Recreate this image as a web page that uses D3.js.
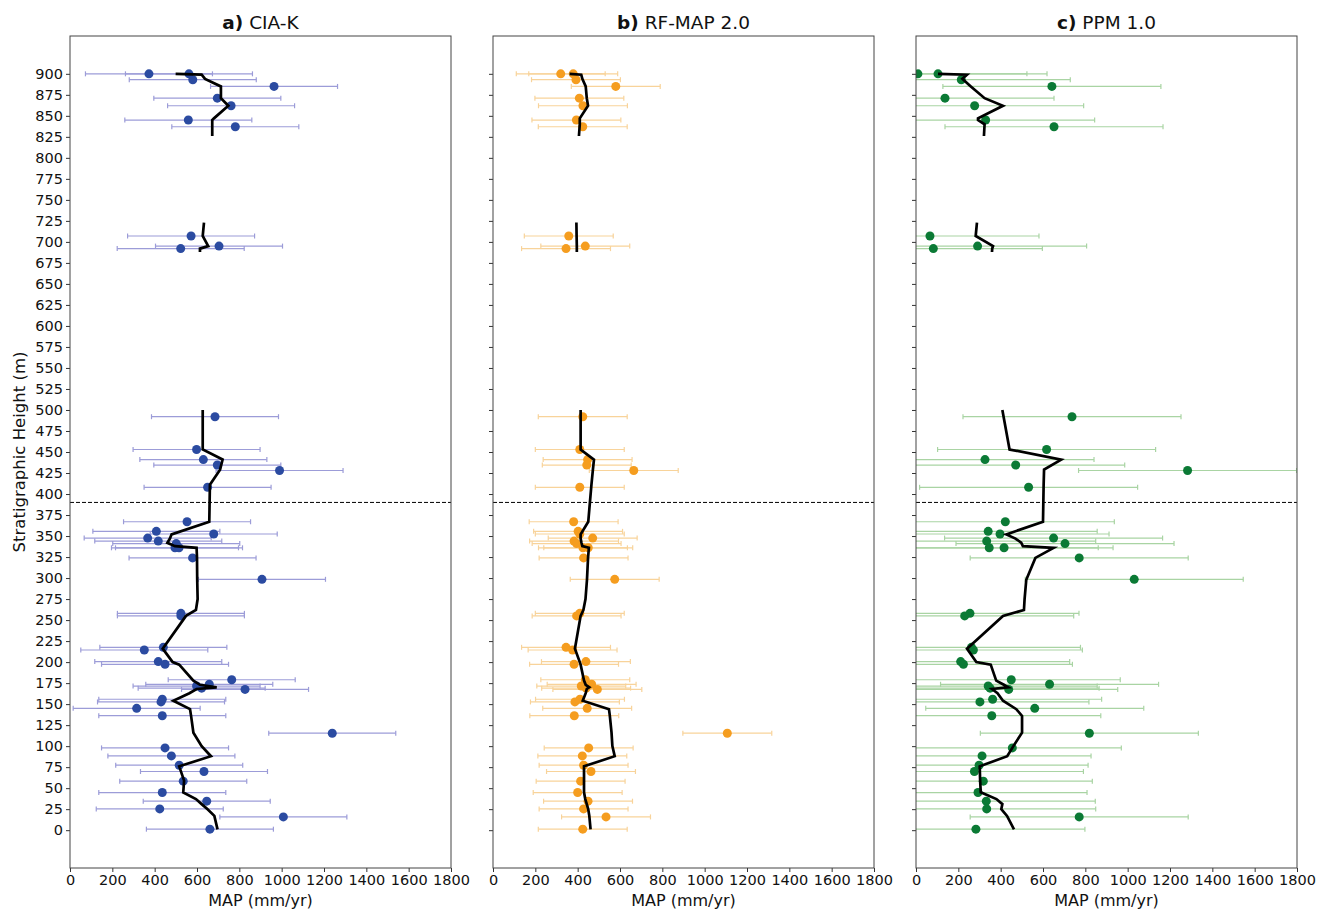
<!DOCTYPE html>
<html><head><meta charset="utf-8">
<script src="https://cdn.jsdelivr.net/npm/d3@7"></script>
<style>body{margin:0;background:#fff;} svg{display:block;font-family:"DejaVu Sans",sans-serif;}</style>
</head><body>
<svg id="chart" width="1319" height="912"></svg>
<script>
// Sample heights (m) and MAP (mm/yr) for each proxy
const heights = [900,900,893,885,871,862,845,837,
  707,695,692,
  492,453,441,434.5,428,408,367,355.6,352.4,347.6,344,341,336,336,324,298.5,258,255,217.6,214.4,200.6,197.4,
  179,173.6,171.5,169,167.5,155.8,152.6,145,136.2,115.4,97.9,88.4,77.3,69.8,58.3,44.8,34.5,25.3,15.8,1.2];
const mapCIAK = [373,562,580,964,696,761,559,781,
  572,704,523,
  685,598,630,696,990,650,553,408,679,367,417,502,496,515,579,907,524,524,441,351,417,449,
  764,658,598,622,827,436,430,315,436,1239,449,479,516,633,535,436,646,424,1008,661];
const mapRF = [320,379,392,580,408,425,394,424,
  358,436,345,
  424,410,447,443,665,410,381,402,410,471,383,395,425,450,428,575,410,395,345,376,439,383,
  436,466,417,440,493,411,387,445,384,1107,452,422,428,463,414,400,449,428,534,424];
const mapPPM = [9,104,214,642,137,277,329,652,
  66,291,82,
  737,617,326,471,1283,532,422,341,397,650,334,704,346,416,771,1031,255,230,262,271,211,224,
  450,631,341,350,438,362,302,561,358,819,455,312,298,276,318,293,332,334,771,283];
// error half-widths (mm/yr)
const errCIAK = 300, errRF = 210, errPPM = 515;

// Trend line (null = gap between sections)
const lineHeights = [900,899,894,885,871,862,847,845,840,826, null,
  723,707,695,692,688, null,
  500,453,441,429,411,367,352,347,342,338,336,324,298,275,262,255,216,200,197,178,
  173,170,168,163,154,144,136,116,100,88,76,59,45,37,31,25,17,1];
const lineCIAK = [499,622,638,713,713,748,680,672,672,672, null,
  633,627,653,614,614, null,
  627,627,721,709,661,658,480,472,460,496,598,600,601,603,595,548,438,485,516,583,
  614,693,598,564,488,567,572,583,622,666,516,539,535,595,622,650,682,697];
const lineRF = [362,417,422,438,443,449,410,410,410,406, null,
  394,395,396,396,396, null,
  414,414,477,472,465,450,414,414,418,422,453,449,444,437,427,414,387,410,414,430,
  438,455,443,438,424,548,552,560,564,575,430,430,430,436,443,450,455,461];
const linePPM = [104,241,219,259,324,411,293,293,324,321, null,
  288,282,364,360,359, null,
  408,442,686,605,603,600,427,470,497,505,650,564,521,513,510,411,241,285,353,379,
  415,435,359,385,411,474,501,501,460,431,301,303,306,380,408,403,430,463];

const yTicks = d3.range(0, 901, 25);
const xTicks = [0,200,400,600,800,1000,1200,1400,1600,1800];
const boundary = 390;

const panels = [
  {label:"a)", name:"CIA-K", vals:mapCIAK, err:errCIAK, line:lineCIAK, x0:70, dot:"#2b4ba1", bar:"#9c9cd8"},
  {label:"b)", name:"RF-MAP 2.0", vals:mapRF, err:errRF, line:lineRF, x0:493, dot:"#f59d1f", bar:"#f8d39a"},
  {label:"c)", name:"PPM 1.0", vals:mapPPM, err:errPPM, line:linePPM, x0:916, dot:"#0b7a35", bar:"#a9d4a3"}
];
const W = 381, topY = 36, bottomY = 868;
const svg = d3.select("#chart");
const y = d3.scaleLinear().domain([-45, 945]).range([bottomY, topY]);

panels.forEach((p, i) => {
  const x = d3.scaleLinear().domain([0, 1800]).range([p.x0, p.x0 + W]);
  const g = svg.append("g");
  const clipId = "clip" + i;
  svg.append("defs").append("clipPath").attr("id", clipId)
    .append("rect").attr("x", p.x0).attr("y", topY).attr("width", W).attr("height", bottomY - topY);
  const plot = g.append("g").attr("clip-path", `url(#${clipId})`);

  const data = heights.map((h, k) => ({h, v: p.vals[k]}));
  // error bars
  const eb = plot.append("g").attr("stroke", p.bar).attr("stroke-width", 1.2).attr("fill", "none");
  data.forEach(d => {
    const yy = y(d.h);
    const xl = x(d.v - p.err), xr = x(d.v + p.err);
    eb.append("line").attr("x1", xl).attr("x2", xr).attr("y1", yy).attr("y2", yy);
    eb.append("line").attr("x1", xl).attr("x2", xl).attr("y1", yy - 2.5).attr("y2", yy + 2.5);
    eb.append("line").attr("x1", xr).attr("x2", xr).attr("y1", yy - 2.5).attr("y2", yy + 2.5);
  });
  // dots
  plot.append("g").selectAll("circle").data(data).join("circle")
    .attr("cx", d => x(d.v)).attr("cy", d => y(d.h)).attr("r", 4.5).attr("fill", p.dot);
  // trend line
  const ld = lineHeights.map((h, k) => ({h, v: p.line[k]}));
  plot.append("path").datum(ld)
    .attr("d", d3.line().defined(d => d.h != null && d.v != null).x(d => x(d.v)).y(d => y(d.h)))
    .attr("fill", "none").attr("stroke", "#000").attr("stroke-width", 2.7).attr("stroke-linejoin", "miter");
  // boundary dashed line
  g.append("line").attr("x1", p.x0).attr("x2", p.x0 + W).attr("y1", y(boundary)).attr("y2", y(boundary))
    .attr("stroke", "#000").attr("stroke-width", 1).attr("stroke-dasharray", "4,2");

  // axes
  const xAxis = d3.axisBottom(x).tickValues(xTicks).tickSize(4).tickPadding(3).tickFormat(d3.format("d"));
  const gx = g.append("g").attr("transform", `translate(0,${bottomY})`).call(xAxis);
  gx.select(".domain").remove();
  gx.selectAll("text").attr("font-size", 14.5).attr("fill", "#111").attr("font-family", "DejaVu Sans");
  gx.selectAll("line").attr("stroke", "#333");

  const yAxis = d3.axisLeft(y).tickValues(yTicks).tickSize(4).tickPadding(3)
    .tickFormat(i === 0 ? d3.format("d") : () => "");
  const gy = g.append("g").attr("transform", `translate(${p.x0},0)`).call(yAxis);
  gy.select(".domain").remove();
  gy.selectAll("text").attr("font-size", 14.5).attr("fill", "#111").attr("font-family", "DejaVu Sans");
  gy.selectAll("line").attr("stroke", "#333");

  // frame
  g.append("rect").attr("x", p.x0).attr("y", topY).attr("width", W).attr("height", bottomY - topY)
    .attr("fill", "none").attr("stroke", "#444").attr("stroke-width", 1);

  // title
  const t = g.append("text").attr("x", p.x0 + W / 2).attr("y", 29).attr("text-anchor", "middle")
    .attr("font-size", 18.5).attr("fill", "#111");
  t.append("tspan").attr("font-weight", "bold").text(p.label);
  t.append("tspan").text(" " + p.name);

  // x label
  g.append("text").attr("x", p.x0 + W / 2).attr("y", 906).attr("text-anchor", "middle")
    .attr("font-size", 16).attr("fill", "#111").text("MAP (mm/yr)");
});

svg.append("text").attr("transform", `translate(25,${(topY + bottomY) / 2}) rotate(-90)`)
  .attr("text-anchor", "middle").attr("font-size", 16.5).attr("fill", "#111").text("Stratigraphic Height (m)");
</script>
</body></html>
